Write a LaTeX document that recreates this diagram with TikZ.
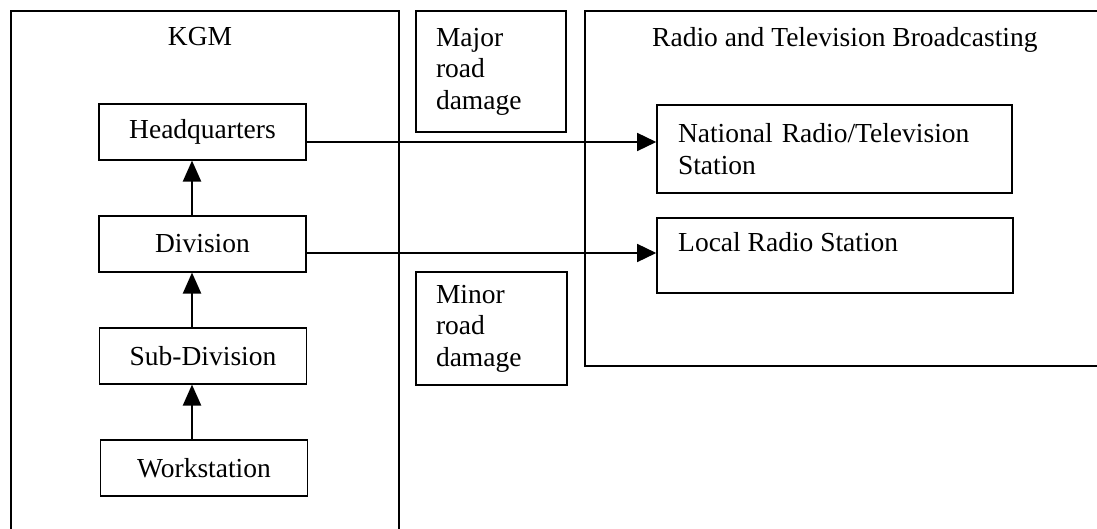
\documentclass[tikz,border=0pt]{standalone}
\usepackage{fontspec}
\setmainfont{Liberation Serif}
\usetikzlibrary{arrows.meta}
\tikzset{
  outerbox/.style={draw, line width=2.4pt, inner sep=0pt, anchor=north west},
  unitbox/.style={draw, line width=1.6pt, inner sep=0pt, minimum width=207pt, minimum height=55.5pt},
  sidebox/.style={draw, line width=1.6pt, inner sep=0pt, align=left},
  txt/.style={inner sep=0pt},
  harrow/.style={line width=1.5pt, -{Triangle[length=19pt,width=18pt]}},
  varrow/.style={line width=2.2pt, -{Triangle[length=21pt,width=18pt]}}
}
\begin{document}
\begin{tikzpicture}[x=1pt,y=-1pt, font=\fontsize{27.5}{31.5}\selectfont]
\useasboundingbox (0,0) rectangle (1097,529);
\clip (0,0) rectangle (1097,529);
% outer containers
\node[outerbox, minimum width=388pt, minimum height=560pt] (kgm) at (10,10) {};
\node[outerbox, minimum width=540pt, minimum height=355pt] (rtb) at (584,10) {};
\node[txt, anchor=base] (kgmtitle) at (200,45.5) {KGM};
\node[txt, anchor=base west] (rtbtitle) at (652,47) {Radio and Television Broadcasting};
% KGM units
\node[unitbox] (hq) at (202.5,132) {Headquarters};
\node[unitbox] (div) at (202.5,244) {Division};
\node[unitbox] (sub) at (203,356) {Sub-Division};
\node[unitbox] (ws) at (204,468) {Workstation};
% damage boxes
\node[sidebox, minimum width=150pt, minimum height=121pt, text width=110pt] (major) at (491,71.5) {Major\\road\\damage};
\node[sidebox, minimum width=151pt, minimum height=113pt, text width=111pt] (minor) at (491.5,328.5) {Minor\\road\\damage};
% stations
\node[sidebox, minimum width=355pt, minimum height=88pt, text width=313pt] (nat) at (834.5,149) {\mbox{National Radio/Television}\\Station};
\node[sidebox, minimum width=356pt, minimum height=75pt] (loc) at (835,255.5) {};
\node[txt, anchor=base west] (loctxt) at (678,252) {Local Radio Station};
% connectors
\coordinate (ax) at (192,0);
\coordinate (y1) at (0,142);
\coordinate (y2) at (0,253);
\draw[varrow] (div.north -| ax) -- (hq.south -| ax);
\draw[varrow] (sub.north -| ax) -- (div.south -| ax);
\draw[varrow] (ws.north -| ax) -- (sub.south -| ax);
\draw[harrow] (hq.east |- y1) -- (nat.west |- y1);
\draw[harrow] (div.east |- y2) -- (loc.west |- y2);
\end{tikzpicture}
\end{document}
